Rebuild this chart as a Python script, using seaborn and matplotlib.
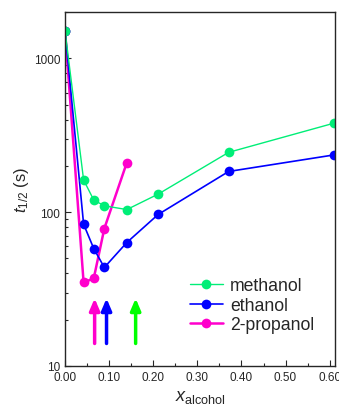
import matplotlib
matplotlib.use('Agg')
import matplotlib.pyplot as plt
from matplotlib.ticker import MultipleLocator, LogLocator, NullFormatter, FixedLocator
import numpy as np
import pandas as pd
import seaborn as sns

# Half-lives vs alcohol mole fraction
xMeth = [0.0, 0.042, 0.065, 0.089, 0.140, 0.211, 0.371, 0.611]
tMeth = [1500, 162, 120, 110, 104, 131, 245, 380]

xEth = [0.0, 0.042, 0.065, 0.089, 0.140, 0.211, 0.371, 0.611]
tEth = [1500, 83.5, 58, 43.7, 63.5, 96.6, 184, 236]

xProp = [0.0, 0.042, 0.065, 0.089, 0.140]
tProp = [1500, 34.9, 37.1, 78.3, 210]

# arrow positions (x) marking something for each alcohol
arrowX = [0.067, 0.094, 0.160]
arrowColors = ['#ff00cc', '#0000ff', '#00ff00']

seriesNames = ['methanol', 'ethanol', '2-propanol']
seriesColors = ['#00ee77', '#0000ff', '#ff00cc']
seriesWidths = [1.0, 1.2, 1.8]

sns.set_style('ticks')
plt.rcParams['font.family'] = ['Liberation Sans', 'DejaVu Sans']
plt.rcParams['mathtext.fontset'] = 'custom'
plt.rcParams['mathtext.rm'] = 'Liberation Sans'
plt.rcParams['mathtext.it'] = 'Liberation Sans:italic'

df = pd.concat([
  pd.DataFrame({'x': xMeth, 't': tMeth, 'alcohol': 'methanol'}),
  pd.DataFrame({'x': xEth, 't': tEth, 'alcohol': 'ethanol'}),
  pd.DataFrame({'x': xProp, 't': tProp, 'alcohol': '2-propanol'}),
])

fig = plt.figure(figsize=(3.39, 4.10), dpi=100)
ax = fig.add_axes([0.192, 0.105, 0.796, 0.863])

# draw in reverse so ethanol ends up on top at x=0 like the original
for name, color, lw in reversed(list(zip(seriesNames, seriesColors, seriesWidths))):
  sub = df[df['alcohol'] == name]
  sns.lineplot(data=sub, x='x', y='t', ax=ax, color=color, linewidth=lw,
               marker='o', markersize=7, markeredgewidth=0, label=name,
               sort=False, estimator=None)

for ax_x, c in zip(arrowX, arrowColors):
  ax.annotate('', xy=(ax_x, 27.5), xytext=(ax_x, 14.0),
              arrowprops=dict(arrowstyle='-|>,head_length=0.7,head_width=0.3',
                              color=c, lw=2.5, shrinkA=0, shrinkB=0))

ax.set_yscale('log')
ax.set_xlim(0, 0.612)
ax.set_ylim(10, 2000)
ax.xaxis.set_major_locator(MultipleLocator(0.1))
ax.xaxis.set_minor_locator(MultipleLocator(0.05))
ax.xaxis.set_major_formatter(matplotlib.ticker.FormatStrFormatter('%.2f'))
ax.yaxis.set_major_locator(FixedLocator([10, 100, 1000]))
ax.yaxis.set_major_formatter(matplotlib.ticker.FuncFormatter(lambda v, p: '%d' % v))
ax.yaxis.set_minor_locator(LogLocator(base=10, subs=np.arange(2, 10)))
ax.yaxis.set_minor_formatter(NullFormatter())
ax.tick_params(which='both', direction='in', labelsize=8.5, top=False, right=False)
ax.tick_params(which='major', length=4, width=0.8)
ax.tick_params(which='minor', length=2.5, width=0.8)
for sp in ax.spines.values():
  sp.set_linewidth(1.0)

ax.set_xlabel(r'$x_{\mathrm{alcohol}}$', fontsize=13, labelpad=4)
ax.set_ylabel(r'$t_{1/2}$ (s)', fontsize=12, labelpad=2)

handles, labels = ax.get_legend_handles_labels()
order = [labels.index(n) for n in seriesNames]
ax.legend([handles[i] for i in order], [labels[i] for i in order],
          loc='lower left', bbox_to_anchor=(0.435, 0.072), frameon=False,
          fontsize=12.7, handlelength=1.9, handletextpad=0.4, labelspacing=0.14,
          borderaxespad=0)

fig.savefig('out.png', dpi=100)
